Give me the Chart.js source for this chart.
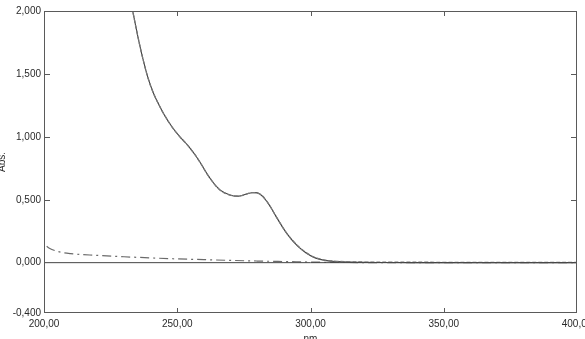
<!DOCTYPE html>
<html>
<head>
<meta charset="utf-8">
<script src="https://cdn.jsdelivr.net/npm/chart.js@4/dist/chart.umd.min.js"></script>
<style>
  html, body { margin: 0; padding: 0; background: #fff; }
  #wrap { width: 585px; height: 339px; }
</style>
</head>
<body>
<div id="wrap"><canvas id="absChart"></canvas></div>
<script>
// spectrum
const sampleNm  = [233, 235, 237, 239, 241, 243, 245, 248, 251, 253, 255, 257, 258.5, 262, 266, 270, 273.5, 278, 281, 284, 287, 291, 295, 298.5, 302, 306, 310, 315, 320, 330, 350, 400];
const sampleAbs = [2.03, 1.82, 1.63, 1.47, 1.35, 1.26, 1.18, 1.08, 1.0, 0.955, 0.905, 0.848, 0.80, 0.68, 0.578, 0.536, 0.53, 0.556, 0.546, 0.475, 0.37, 0.235, 0.135, 0.075, 0.036, 0.016, 0.008, 0.004, 0.002, 0.001, 0.0, 0.0];
const repeatAbs = [2.03, 1.82, 1.63, 1.47, 1.35, 1.26, 1.18, 1.08, 1.0, 0.955, 0.905, 0.848, 0.80, 0.68, 0.578, 0.536, 0.53, 0.556, 0.546, 0.475, 0.37, 0.237, 0.138, 0.078, 0.039, 0.019, 0.011, 0.007, 0.005, 0.004, 0.003, 0.002];

const blankNm  = [201, 202, 205, 210, 220, 230, 240, 250, 260, 270, 280, 290, 300, 310, 320, 400];
const blankAbs = [0.13, 0.115, 0.09, 0.072, 0.058, 0.047, 0.038, 0.03, 0.024, 0.018, 0.013, 0.009, 0.005, 0.002, 0.001, 0.0];

const baseNm  = [200, 400];
const baseAbs = [0, 0];

const yTicks = [-0.4, 0, 0.5, 1.0, 1.5, 2.0];
const xInnerTicks = [250, 300, 350];
const yInnerTicks = [0.5, 1.0, 1.5];

const pts = (xs, ys) => xs.map((x, i) => ({ x: x, y: ys[i] }));
const comma = (v, d) => v.toFixed(d).replace('.', ',');

const axisColor = '#5a5a5a';
const labelFont = { family: 'Liberation Sans', size: 10 };

// frame + inward tick marks like the instrument software
const framePlugin = {
  id: 'frame',
  afterDatasetsDraw(chart) {
    const { ctx, chartArea: a, scales } = chart;
    ctx.save();
    ctx.strokeStyle = axisColor;
    ctx.lineWidth = 1;
    ctx.strokeRect(a.left + 0.5, a.top + 0.5, a.right - a.left - 1, a.bottom - a.top - 1);
    ctx.beginPath();
    xInnerTicks.forEach(v => {
      const px = Math.round(scales.x.getPixelForValue(v)) + 0.5;
      ctx.moveTo(px, a.bottom); ctx.lineTo(px, a.bottom - 5);
      ctx.moveTo(px, a.top); ctx.lineTo(px, a.top + 5);
    });
    yInnerTicks.forEach(v => {
      const py = Math.round(scales.y.getPixelForValue(v)) + 0.5;
      ctx.moveTo(a.left, py); ctx.lineTo(a.left + 6, py);
      ctx.moveTo(a.right, py); ctx.lineTo(a.right - 6, py);
    });
    ctx.stroke();
    ctx.restore();
  }
};

new Chart(document.getElementById('absChart'), {
  type: 'line',
  data: {
    datasets: [
      {
        data: pts(baseNm, baseAbs),
        borderColor: '#444',
        borderWidth: 1,
        pointRadius: 0,
        tension: 0
      },
      {
        data: pts(blankNm, blankAbs),
        borderColor: '#6a6a6a',
        borderWidth: 1.2,
        borderDash: [9, 4, 2, 4],
        pointRadius: 0,
        cubicInterpolationMode: 'monotone'
      },
      {
        data: pts(sampleNm, repeatAbs),
        borderColor: '#777',
        borderWidth: 1.3,
        borderDash: [4, 2],
        pointRadius: 0,
        tension: 0.4
      },
      {
        data: pts(sampleNm, sampleAbs),
        borderColor: '#3c3c3c',
        borderWidth: 1.1,
        pointRadius: 0,
        tension: 0.4
      }
    ]
  },
  options: {
    responsive: true,
    maintainAspectRatio: false,
    animation: false,
    layout: { padding: { top: 11, right: 8, left: 0, bottom: 0 } },
    plugins: {
      legend: { display: false },
      tooltip: { enabled: false }
    },
    scales: {
      x: {
        type: 'linear',
        min: 200,
        max: 400,
        grid: { display: false, drawTicks: false },
        border: { display: false },
        ticks: {
          stepSize: 50,
          padding: 5,
          color: '#2a2a2a',
          font: labelFont,
          maxRotation: 0,
          callback: v => comma(v, 2)
        },
        title: {
          display: true,
          text: 'nm',
          color: '#2a2a2a',
          font: labelFont,
          padding: { top: 0, bottom: -6 }
        },
        afterFit: s => { s.height = 26; s.paddingLeft = 0; s.paddingRight = 0; }
      },
      y: {
        min: -0.4,
        max: 2.0,
        grid: { display: false, drawTicks: false },
        border: { display: false },
        afterBuildTicks: s => { s.ticks = yTicks.map(v => ({ value: v })); },
        ticks: {
          padding: 3,
          color: '#2a2a2a',
          font: labelFont,
          callback: v => comma(v, 3)
        },
        title: {
          display: true,
          text: 'Abs.',
          color: '#2a2a2a',
          font: labelFont,
          padding: { top: -4, bottom: 0 }
        },
        afterFit: s => { s.width = 44; s.paddingTop = 0; s.paddingBottom = 0; }
      }
    }
  },
  plugins: [framePlugin]
});
</script>
</body>
</html>
